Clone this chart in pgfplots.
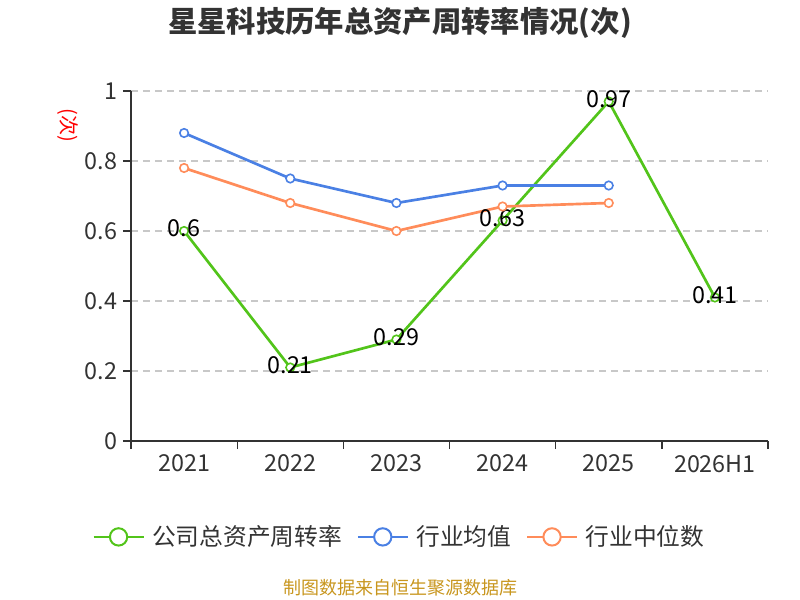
\documentclass[border=0pt]{standalone}
\usepackage{pgfplots}
\pgfplotsset{compat=1.18}
\usepackage{fontspec}
\setmainfont{Noto Sans CJK SC}
\definecolor{cgreen}{RGB}{82,196,26}
\definecolor{cblue}{RGB}{74,128,228}
\definecolor{corange}{RGB}{255,140,90}
\definecolor{caxis}{RGB}{51,51,51}
\definecolor{cgrid}{RGB}{200,200,200}
\definecolor{cfoot}{RGB}{200,150,30}
\pgfplotsset{myleg/.style={legend image code/.code={%
  \draw[line width=1.5pt] (0,0)--(37.5pt,0);
  \draw[fill=white, line width=1.5pt] (18.75pt,0) circle (6.5pt);
  \path (41pt,0);}}}
\begin{document}
\begin{tikzpicture}
\useasboundingbox (0,0) rectangle (600pt,450pt);
\begin{axis}[
  at={(98.25pt,119.25pt)}, anchor=south west,
  scale only axis, width=477.75pt, height=262.5pt,
  xmin=-0.5, xmax=5.5, ymin=0, ymax=1,
  axis x line*=bottom, axis y line*=left,
  axis line style={caxis, line width=1pt, -},
  xtick={0,1,2,3,4,5},
  xticklabels={2021,2022,2023,2024,2025,2026H1},
  major x tick style={draw=none},
  minor xtick={-0.5,0.5,1.5,2.5,3.5,4.5,5.5},
  minor x tick style={caxis, line width=1pt},
  minor tick length=6pt,
  ytick={0,0.2,0.4,0.6,0.8,1},
  yticklabels={0,0.2,0.4,0.6,0.8,1},
  major y tick style={caxis, line width=1pt},
  major tick length=6pt,
  tick align=outside,
  ymajorgrids,
  grid style={cgrid, dashed, line width=0.8pt, dash pattern=on 5pt off 4pt},
  tick label style={font=\fontsize{17.5}{18}\selectfont, text=caxis},
  xticklabel style={yshift=-1pt},
  yticklabel style={xshift=-1pt},
  legend style={at={(0.422,-0.274)}, anchor=center, draw=none, fill=none,
    legend columns=3, font=\fontsize{17.8}{18}\selectfont, text=caxis,
    /tikz/every even column/.append style={column sep=9pt}},
  legend cell align=left,
]
\addplot[cgreen, line width=2pt, mark=*, mark size=3.2pt, mark options={fill=white, line width=1.2pt},
  nodes near coords, point meta=explicit symbolic,
  every node near coord/.append style={anchor=center, font=\fontsize{17.5}{18}\selectfont, text=black, yshift=2pt},
  myleg]
  coordinates {(0,0.6)[0.6] (1,0.21)[0.21] (2,0.29)[0.29] (3,0.63)[0.63] (4,0.97)[0.97] (5,0.41)[0.41]};
\addlegendentry{公司总资产周转率}
\addplot[cblue, line width=2pt, mark=*, mark size=3.2pt, mark options={fill=white, line width=1.2pt}, myleg]
  coordinates {(0,0.88) (1,0.75) (2,0.68) (3,0.73) (4,0.73)};
\addlegendentry{行业均值}
\addplot[corange, line width=2pt, mark=*, mark size=3.2pt, mark options={fill=white, line width=1.2pt}, myleg]
  coordinates {(0,0.78) (1,0.68) (2,0.60) (3,0.67) (4,0.68)};
\addlegendentry{行业中位数}
\end{axis}
\node[font=\fontsize{22}{24}\selectfont\bfseries, text=caxis] at (300pt,433pt) {星星科技历年总资产周转率情况(次)};
\node[font=\fontsize{15}{16}\selectfont, text=red, rotate=-90] at (51pt,356pt) {(次)};
\node[font=\fontsize{13.5}{14}\selectfont, text=cfoot] at (300pt,9pt) {制图数据来自恒生聚源数据库};
\end{tikzpicture}
\end{document}
